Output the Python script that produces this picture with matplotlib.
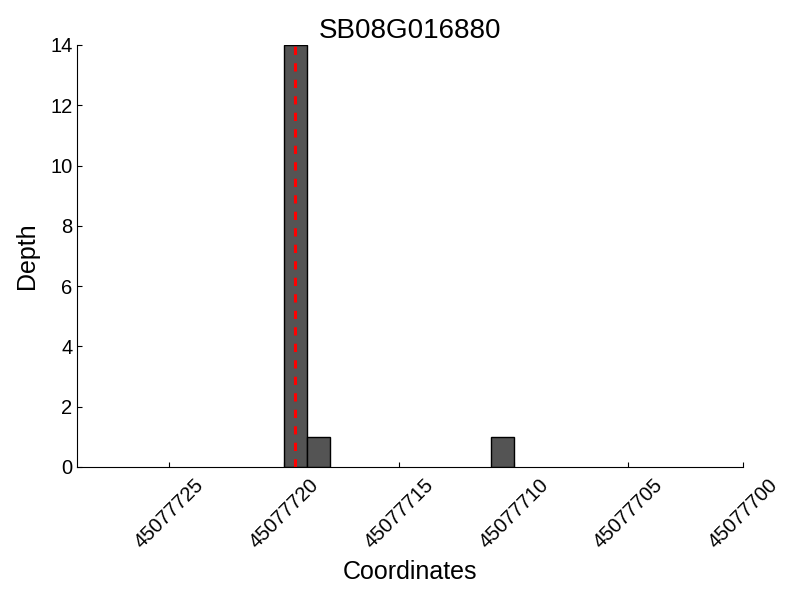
import matplotlib
matplotlib.use('Agg')
import matplotlib.pyplot as plt
import numpy as np

plt.rcParams['font.family'] = ['Liberation Sans', 'DejaVu Sans']

gene = "SB08G016880"
coords = [45077719, 45077718, 45077710]
depth = [14, 1, 1]
site = 45077719.5
xticks = [45077725, 45077720, 45077715, 45077710, 45077705, 45077700]

fig = plt.figure(figsize=(8, 6), dpi=100)
ax = fig.add_axes([0.0966, 0.2217, 0.8325, 0.7033])

ax.bar(coords, depth, width=1, align='edge', color='#545454', edgecolor='black', linewidth=1, zorder=1)
ax.axvline(site, color='red', linestyle='--', linewidth=2.2, dashes=(2.7, 2.7), zorder=2)

ax.set_xlim(45077729, 45077700)
ax.set_ylim(0, 14)
ax.set_xticks(xticks)
ax.set_xticklabels([str(x) for x in xticks], rotation=45, fontsize=14.5)
ax.tick_params(axis='both', direction='in', labelsize=14.5)
ax.tick_params(axis='x', pad=6)
ax.spines['top'].set_visible(False)
ax.spines['right'].set_visible(False)

ax.set_title(gene, fontsize=20, pad=5)
ax.set_xlabel('Coordinates', fontsize=18, labelpad=6)
ax.set_ylabel('Depth', fontsize=18, labelpad=8)

fig.savefig('out.png', dpi=100)
